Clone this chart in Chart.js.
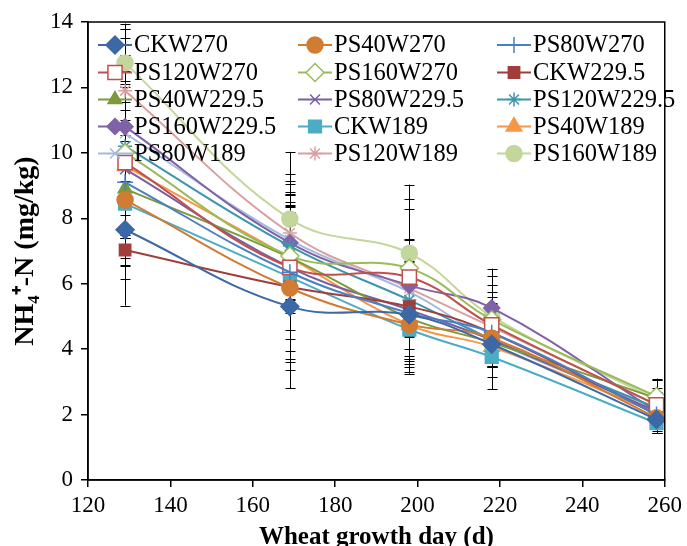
<!DOCTYPE html>
<html>
<head>
<meta charset="utf-8">
<script src="https://cdn.jsdelivr.net/npm/chart.js@4.4.1/dist/chart.umd.min.js"></script>
<style>
  body { margin: 0; background: #ffffff; }
  #wrap { width: 687px; height: 546px; }
</style>
</head>
<body>
<div id="wrap"><canvas id="myChart" width="687" height="546"></canvas></div>
<script>
// sampling days (x) and axis ticks
const days = [129, 169, 198, 218, 258];
const xTicks = [120, 140, 160, 180, 200, 220, 240, 260];
const yTicks = [0, 2, 4, 6, 8, 10, 12, 14];

// NH4+-N values (mg/kg)
const CKW270      = [7.65, 5.30, 5.05, 4.15, 1.85];
const PS40W270    = [8.56, 5.87, 4.75, 4.34, 1.90];
const PS80W270    = [9.10, 6.35, 5.10, 4.50, 2.00];
const PS120W270   = [9.70, 6.50, 6.20, 4.74, 2.30];
const PS160W270   = [10.0, 6.85, 6.47, 4.90, 2.55];
const CKW2295     = [7.03, 5.90, 5.30, 4.50, 2.00];
const PS40W2295   = [8.90, 6.80, 4.95, 4.20, 2.50];
const PS80W2295   = [9.50, 6.50, 5.20, 4.28, 2.10];
const PS120W2295  = [10.2, 7.15, 5.50, 4.30, 2.20];
const PS160W2295  = [10.8, 7.25, 5.95, 5.26, 2.10];
const CKW189      = [8.45, 6.20, 4.60, 3.76, 1.74];
const PS40W189    = [9.60, 6.80, 4.74, 4.07, 2.05];
const PS80W189    = [10.6, 7.34, 5.75, 4.28, 2.20];
const PS120W189   = [11.9, 7.55, 5.86, 4.68, 2.30];
const PS160W189   = [12.75, 7.98, 6.93, 5.00, 2.45];

// error bar half lengths
const errCKW270     = [1.5, 2.5, 1.6, 1.0, 0.4];
const errPS40W270   = [2.0, 2.5, 1.5, 0.9, 0.45];
const errPS80W270   = [2.2, 2.4, 1.4, 0.8, 0.4];
const errPS120W270  = [2.3, 2.2, 2.4, 1.0, 0.4];
const errPS160W270  = [2.5, 1.5, 1.8, 1.05, 0.5];
const errCKW2295    = [1.7, 2.3, 1.3, 0.9, 0.5];
const errPS40W2295  = [2.1, 1.4, 1.3, 0.75, 0.6];
const errPS80W2295  = [2.6, 1.9, 1.5, 0.8, 0.5];
const errPS120W2295 = [2.8, 1.65, 1.1, 0.8, 0.45];
const errPS160W2295 = [2.7, 1.8, 1.4, 1.2, 0.4];
const errCKW189     = [1.9, 2.5, 1.3, 0.3, 0.3];
const errPS40W189   = [2.6, 1.7, 1.2, 1.3, 0.5];
const errPS80W189   = [3.2, 1.8, 1.3, 0.7, 0.4];
const errPS120W189  = [1.9, 1.8, 1.5, 0.9, 0.5];
const errPS160W189  = [1.2, 2.05, 2.1, 1.25, 0.6];

const serif = "'Liberation Serif', 'Times New Roman', serif";

let mk = (label, values, errors, color, style, radius, fill) => ({
  label: label,
  data: values.map((v, i) => ({ x: days[i], y: v })),
  errors: errors,
  borderColor: color,
  backgroundColor: color,
  pointStyle: style,
  pointRadius: radius,
  pointHoverRadius: radius,
  pointBackgroundColor: fill || color,
  pointBorderColor: color,
  pointBorderWidth: 1.5,
  borderWidth: 2,
  tension: 0.4,
  fill: false,
});

const datasets = [
  mk("CKW270", CKW270, errCKW270, "#3c68a6", "rectRot", 9),
  mk("PS40W270", PS40W270, errPS40W270, "#d17b33", "circle", 8),
  mk("PS80W270", PS80W270, errPS80W270, "#4a7fc4", "cross", 8),
  mk("PS120W270", PS120W270, errPS120W270, "#c0504d", "rect", 10, "#ffffff"),
  mk("PS160W270", PS160W270, errPS160W270, "#9bbb59", "rectRot", 9, "#ffffff"),
  mk("CKW229.5", CKW2295, errCKW2295, "#a13d3b", "rect", 8),
  mk("PS40W229.5", PS40W2295, errPS40W2295, "#7c9a3c", "triangle", 8),
  mk("PS80W229.5", PS80W2295, errPS80W2295, "#7a5fa0", "crossRot", 7),
  mk("PS120W229.5", PS120W2295, errPS120W2295, "#3d95ad", "star", 7),
  mk("PS160W229.5", PS160W2295, errPS160W2295, "#7f62a8", "rectRot", 8),
  mk("CKW189", CKW189, errCKW189, "#4bacc6", "rect", 9),
  mk("PS40W189", PS40W189, errPS40W189, "#f79646", "triangle", 9),
  mk("PS80W189", PS80W189, errPS80W189, "#a5b9de", "crossRot", 7),
  mk("PS120W189", PS120W189, errPS120W189, "#d9a0a0", "star", 7),
  mk("PS160W189", PS160W189, errPS160W189, "#c3d69b", "circle", 8),
];

// error bars under the lines
const errorBars = {
  id: "errorBars",
  beforeDatasetsDraw: (chart) => {
    const ctx = chart.ctx;
    const xs = chart.scales.x, ys = chart.scales.y;
    ctx.save();
    ctx.strokeStyle = "#000000";
    ctx.lineWidth = 1;
    chart.data.datasets.forEach((ds) => {
      ds.data.forEach((p, j) => {
        const e = ds.errors[j];
        const x = Math.round(xs.getPixelForValue(p.x)) + 0.5;
        const y1 = ys.getPixelForValue(Math.min(p.y + e, 14.3));
        const y2 = ys.getPixelForValue(p.y - e);
        ctx.beginPath();
        ctx.moveTo(x, y1); ctx.lineTo(x, y2);
        ctx.moveTo(x - 5, Math.round(y1) + 0.5); ctx.lineTo(x + 5, Math.round(y1) + 0.5);
        ctx.moveTo(x - 5, Math.round(y2) + 0.5); ctx.lineTo(x + 5, Math.round(y2) + 0.5);
        ctx.stroke();
      });
    });
    ctx.restore();
  },
};

// box round the plot area
const frame = {
  id: "frame",
  afterDatasetsDraw: (chart) => {
    const a = chart.chartArea, ctx = chart.ctx;
    ctx.save();
    ctx.strokeStyle = "#000000";
    ctx.lineWidth = 1.5;
    ctx.strokeRect(a.left, a.top, a.right - a.left, a.bottom - a.top);
    ctx.restore();
  },
};

// legend in 3 columns inside the plot
const legendBox = {
  id: "legendBox",
  afterDraw: (chart) => {
    const ctx = chart.ctx;
    const colX = [98, 298, 497];
    const rowY = [45, 72.5, 99.5, 126.5, 153.5];
    ctx.save();
    chart.data.datasets.forEach((ds, i) => {
      const x = colX[i % 3], y = rowY[Math.floor(i / 3)];
      ctx.strokeStyle = ds.borderColor;
      ctx.lineWidth = 2;
      ctx.beginPath();
      ctx.moveTo(x, y); ctx.lineTo(x + 34, y);
      ctx.stroke();
      ctx.fillStyle = ds.pointBackgroundColor;
      ctx.strokeStyle = ds.pointBorderColor;
      ctx.lineWidth = ds.pointBorderWidth;
      Chart.helpers.drawPoint(ctx, { pointStyle: ds.pointStyle, radius: ds.pointRadius, rotation: 0, borderWidth: ds.pointBorderWidth }, x + 17, y);
      ctx.fillStyle = "#000000";
      ctx.font = "24.5px " + serif;
      ctx.textBaseline = "middle";
      ctx.fillText(ds.label, x + 36, y + 1);
    });
    ctx.restore();
  },
};

(function () {
  const ctx = document.getElementById("myChart").getContext("2d");
  const config = {
    type: "line",
    data: { datasets: datasets },
    plugins: [errorBars, frame, legendBox],
    options: {
      responsive: false,
      animation: false,
      devicePixelRatio: 1,
      layout: { padding: { left: 0, right: 7, top: 22, bottom: 0 } },
      plugins: { legend: { display: false }, tooltip: { enabled: false } },
      scales: {
        x: {
          type: "linear",
          min: 120,
          max: 260,
          afterFit: (s) => { s.height = 66; },
          afterBuildTicks: (s) => { s.ticks = xTicks.map((v) => ({ value: v })); },
          border: { display: true, color: "#000000", width: 1.5 },
          grid: { display: true, drawOnChartArea: false, drawTicks: true, tickLength: 7, color: "#000000", lineWidth: 1.5 },
          ticks: { color: "#000000", padding: 5, font: { family: serif, size: 23 } },
          title: { display: true, text: "Wheat growth day (d)", color: "#000000", padding: { top: 0, bottom: -7 }, font: { family: serif, size: 25, weight: "bold" } },
        },
        y: {
          min: 0,
          max: 14,
          afterFit: (s) => { s.width = 88; },
          afterBuildTicks: (s) => { s.ticks = yTicks.map((v) => ({ value: v })); },
          border: { display: true, color: "#000000", width: 1.5 },
          grid: { display: true, drawOnChartArea: false, drawTicks: true, tickLength: 7, color: "#000000", lineWidth: 1.5 },
          ticks: { color: "#000000", padding: 8, font: { family: serif, size: 23 } },
          title: { display: true, text: "NH\u2084\u207A-N (mg/kg)", color: "#000000", padding: { top: 9, bottom: 0 }, font: { family: serif, size: 28, weight: "bold" } },
        },
      },
    },
  };
  const chart = new Chart(ctx, config);
})();
</script>
</body>
</html>
